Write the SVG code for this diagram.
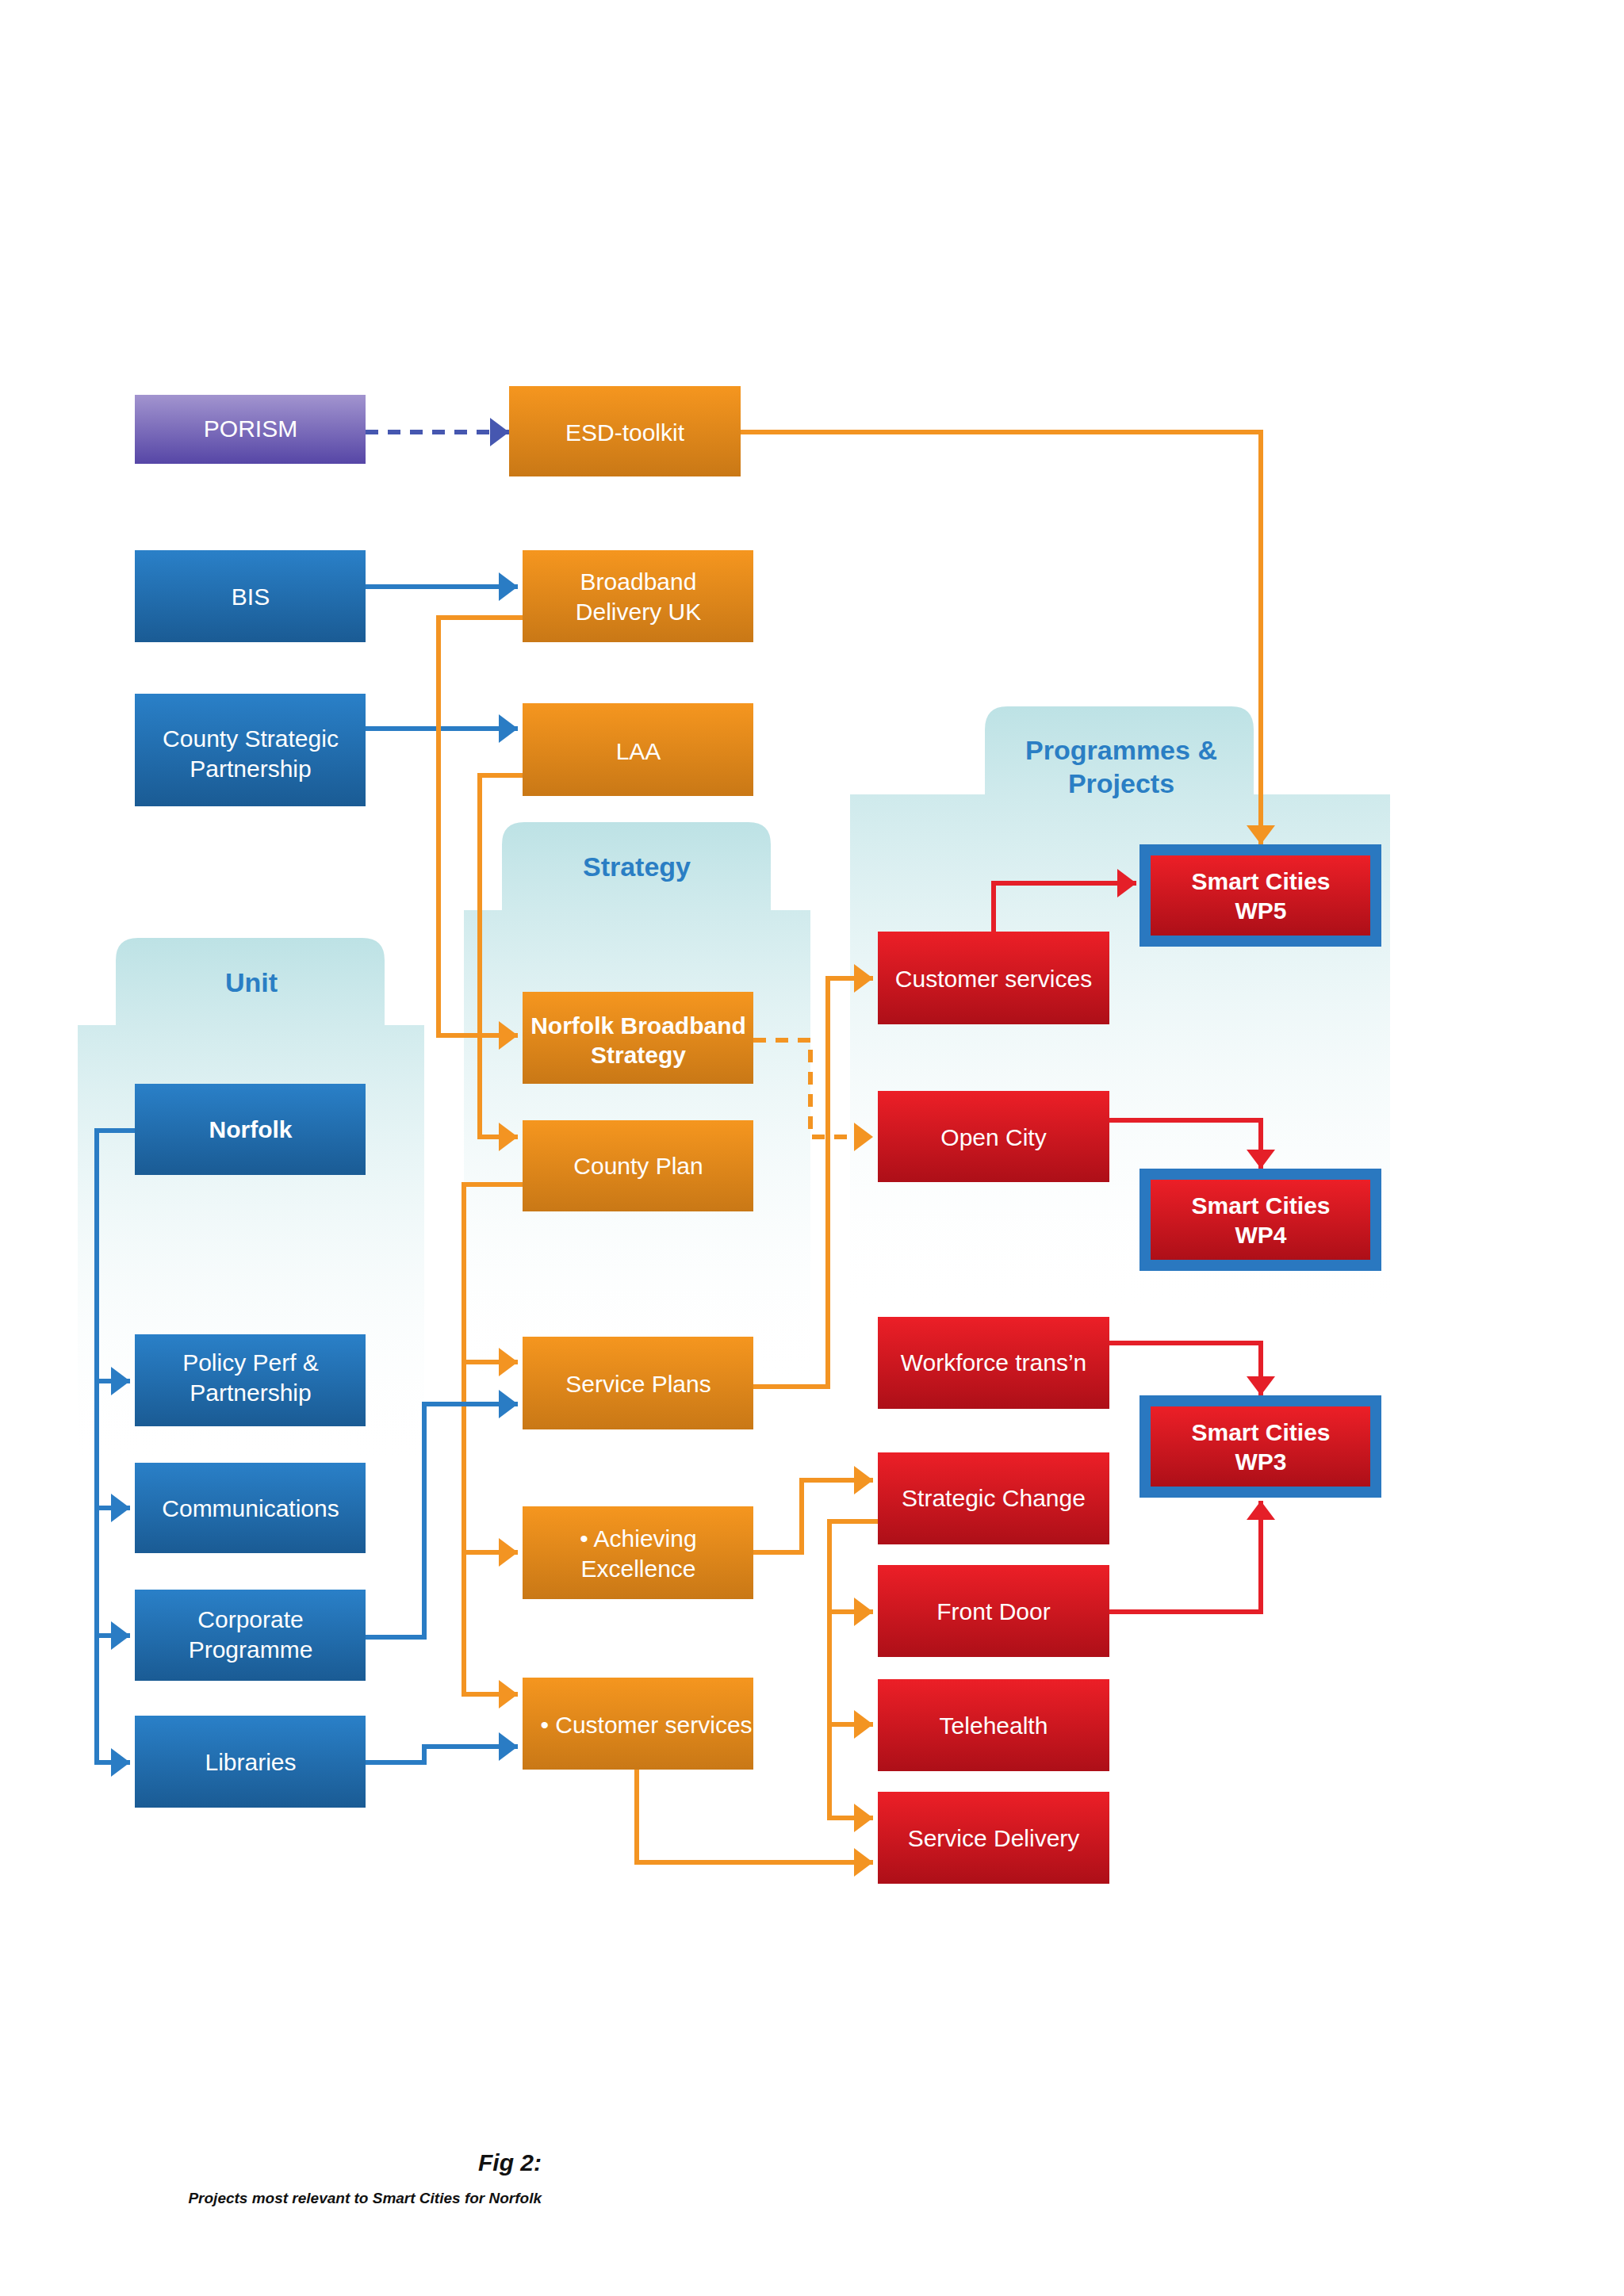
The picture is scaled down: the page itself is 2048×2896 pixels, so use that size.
<svg xmlns="http://www.w3.org/2000/svg" width="2048" height="2896" viewBox="0 0 2048 2896">
<defs>
<linearGradient id="gb" x1="0" y1="0" x2="0" y2="1"><stop offset="0" stop-color="#2a80c8"/><stop offset="1" stop-color="#1a5b94"/></linearGradient>
<linearGradient id="go" x1="0" y1="0" x2="0" y2="1"><stop offset="0" stop-color="#f5961f"/><stop offset="1" stop-color="#c97816"/></linearGradient>
<linearGradient id="gr" x1="0" y1="0" x2="0" y2="1"><stop offset="0" stop-color="#ec1f27"/><stop offset="1" stop-color="#ad0f18"/></linearGradient>
<linearGradient id="gp" x1="0" y1="0" x2="0" y2="1"><stop offset="0" stop-color="#a294cf"/><stop offset="1" stop-color="#5646a6"/></linearGradient>
<linearGradient id="gpan" x1="0" y1="0" x2="0" y2="1"><stop offset="0" stop-color="#bde2e5"/><stop offset="1" stop-color="#ffffff" stop-opacity="0"/></linearGradient>
<marker id="ab" markerUnits="userSpaceOnUse" markerWidth="26" markerHeight="36" refX="24" refY="18" orient="auto"><path d="M0,0 L24,18 L0,36 Z" fill="#2a7cc4"/></marker>
<marker id="ao" markerUnits="userSpaceOnUse" markerWidth="26" markerHeight="36" refX="24" refY="18" orient="auto"><path d="M0,0 L24,18 L0,36 Z" fill="#f39422"/></marker>
<marker id="ar" markerUnits="userSpaceOnUse" markerWidth="26" markerHeight="36" refX="24" refY="18" orient="auto"><path d="M0,0 L24,18 L0,36 Z" fill="#e51f28"/></marker>
<marker id="ap" markerUnits="userSpaceOnUse" markerWidth="26" markerHeight="36" refX="24" refY="18" orient="auto"><path d="M0,0 L24,18 L0,36 Z" fill="#4657b0"/></marker>
</defs>
<style>
text{font-family:"Liberation Sans",Arial,sans-serif;font-size:30px;fill:#fff;text-anchor:middle}
.b{font-weight:bold}
.t{font-weight:bold;font-size:34px;fill:#2a7ec4}
.l{fill:none;stroke-width:6}
.lb{stroke:#2a7cc4}.lo{stroke:#f39422}.lr{stroke:#e51f28}
</style>
<rect width="2048" height="2896" fill="#fff"/>
<g id="panels">
<path d="M1072,1002 H1242 V920 Q1242,891 1270,891 H1553 Q1581,891 1581,920 V1002 H1753 V1660 H1072 Z" fill="url(#gpan)"/>
<path d="M585,1148 H633 V1065 Q633,1037 661,1037 H944 Q972,1037 972,1065 V1148 H1022 V1750 H585 Z" fill="url(#gpan)"/>
<path d="M98,1293 H146 V1211 Q146,1183 174,1183 H457 Q485,1183 485,1211 V1293 H535 V1850 H98 Z" fill="url(#gpan)"/>
<text class="t" x="1414" y="958">Programmes &amp;</text><text class="t" x="1414" y="1000">Projects</text>
<text class="t" x="803" y="1105">Strategy</text>
<text class="t" x="317" y="1251">Unit</text>
</g>
<g id="connectors">
<path class="l" d="M461,545 H642" stroke="#4657b0" stroke-dasharray="16,12" marker-end="url(#ap)"/>
<path class="l lo" d="M934,545 H1590 V1065" marker-end="url(#ao)"/>
<path class="l lb" d="M461,740 H653" marker-end="url(#ab)"/>
<path class="l lb" d="M461,919 H653" marker-end="url(#ab)"/>
<path class="l lo" d="M659,779 H553 V1306 H653" marker-end="url(#ao)"/>
<path class="l lo" d="M659,978 H605 V1434 H653" marker-end="url(#ao)"/>
<path class="l lo" d="M659,1494 H585 V2137 H653" marker-end="url(#ao)"/>
<path class="l lo" d="M585,1718 H653" marker-end="url(#ao)"/>
<path class="l lo" d="M585,1958 H653" marker-end="url(#ao)"/>
<path class="l lo" d="M950,1312 H1022 V1434 H1101" stroke-dasharray="16,12" marker-end="url(#ao)"/>
<path class="l lo" d="M950,1749 H1044 V1234 H1101" marker-end="url(#ao)"/>
<path class="l lr" d="M1253,1175 V1114 H1433" marker-end="url(#ar)"/>
<path class="l lr" d="M1399,1413 H1590 V1474" marker-end="url(#ar)"/>
<path class="l lr" d="M1399,1694 H1590 V1760" marker-end="url(#ar)"/>
<path class="l lr" d="M1399,2033 H1590 V1893" marker-end="url(#ar)"/>
<path class="l lo" d="M950,1958 H1011 V1867 H1101" marker-end="url(#ao)"/>
<path class="l lo" d="M1107,1919 H1046 V2293 H1101" marker-end="url(#ao)"/>
<path class="l lo" d="M1046,2033 H1101" marker-end="url(#ao)"/>
<path class="l lo" d="M1046,2175 H1101" marker-end="url(#ao)"/>
<path class="l lo" d="M803,2232 V2349 H1101" marker-end="url(#ao)"/>
<path class="l lb" d="M170,1426 H122 V2223 H164" marker-end="url(#ab)"/>
<path class="l lb" d="M122,1742 H164" marker-end="url(#ab)"/>
<path class="l lb" d="M122,1902 H164" marker-end="url(#ab)"/>
<path class="l lb" d="M122,2063 H164" marker-end="url(#ab)"/>
<path class="l lb" d="M461,2065 H535 V1771 H653" marker-end="url(#ab)"/>
<path class="l lb" d="M461,2223 H535 V2203 H653" marker-end="url(#ab)"/>
</g>
<g id="porism"><rect x="170" y="498" width="291" height="87" fill="url(#gp)"/><text x="316" y="551">PORISM</text></g>
<g id="esd"><rect x="642" y="487" width="292" height="114" fill="url(#go)"/><text x="788" y="556">ESD-toolkit</text></g>
<g id="bis"><rect x="170" y="694" width="291" height="116" fill="url(#gb)"/><text x="316" y="763">BIS</text></g>
<g id="bduk"><rect x="659" y="694" width="291" height="116" fill="url(#go)"/><text x="805" y="744">Broadband</text><text x="805" y="782">Delivery UK</text></g>
<g id="csp"><rect x="170" y="875" width="291" height="142" fill="url(#gb)"/><text x="316" y="942">County Strategic</text><text x="316" y="980">Partnership</text></g>
<g id="laa"><rect x="659" y="887" width="291" height="117" fill="url(#go)"/><text x="805" y="958">LAA</text></g>
<g id="wp5"><rect x="1437" y="1065" width="305" height="129" fill="#2a78c0"/><rect x="1451" y="1079" width="277" height="101" fill="url(#gr)"/><text class="b" x="1590" y="1122">Smart Cities</text><text class="b" x="1590" y="1159">WP5</text></g>
<g id="custred"><rect x="1107" y="1175" width="292" height="117" fill="url(#gr)"/><text x="1253" y="1245">Customer services</text></g>
<g id="nbs"><rect x="659" y="1251" width="291" height="116" fill="url(#go)"/><text class="b" x="805" y="1304">Norfolk Broadband</text><text class="b" x="805" y="1341">Strategy</text></g>
<g id="norfolk"><rect x="170" y="1367" width="291" height="115" fill="url(#gb)"/><text class="b" x="316" y="1435">Norfolk</text></g>
<g id="opencity"><rect x="1107" y="1376" width="292" height="115" fill="url(#gr)"/><text x="1253" y="1445">Open City</text></g>
<g id="countyplan"><rect x="659" y="1413" width="291" height="115" fill="url(#go)"/><text x="805" y="1481">County Plan</text></g>
<g id="wp4"><rect x="1437" y="1474" width="305" height="129" fill="#2a78c0"/><rect x="1451" y="1488" width="277" height="101" fill="url(#gr)"/><text class="b" x="1590" y="1531">Smart Cities</text><text class="b" x="1590" y="1568">WP4</text></g>
<g id="policy"><rect x="170" y="1683" width="291" height="116" fill="url(#gb)"/><text x="316" y="1729">Policy Perf &amp;</text><text x="316" y="1767">Partnership</text></g>
<g id="serviceplans"><rect x="659" y="1686" width="291" height="117" fill="url(#go)"/><text x="805" y="1756">Service Plans</text></g>
<g id="workforce"><rect x="1107" y="1661" width="292" height="116" fill="url(#gr)"/><text x="1253" y="1729">Workforce trans’n</text></g>
<g id="wp3"><rect x="1437" y="1760" width="305" height="129" fill="#2a78c0"/><rect x="1451" y="1774" width="277" height="101" fill="url(#gr)"/><text class="b" x="1590" y="1817">Smart Cities</text><text class="b" x="1590" y="1854">WP3</text></g>
<g id="comms"><rect x="170" y="1845" width="291" height="114" fill="url(#gb)"/><text x="316" y="1913">Communications</text></g>
<g id="stratchange"><rect x="1107" y="1832" width="292" height="116" fill="url(#gr)"/><text x="1253" y="1900">Strategic Change</text></g>
<g id="achieving"><rect x="659" y="1900" width="291" height="117" fill="url(#go)"/><text x="805" y="1951">• Achieving</text><text x="805" y="1989">Excellence</text></g>
<g id="corporate"><rect x="170" y="2005" width="291" height="115" fill="url(#gb)"/><text x="316" y="2053">Corporate</text><text x="316" y="2091">Programme</text></g>
<g id="frontdoor"><rect x="1107" y="1974" width="292" height="116" fill="url(#gr)"/><text x="1253" y="2043">Front Door</text></g>
<g id="custorange"><rect x="659" y="2116" width="291" height="116" fill="url(#go)"/><text x="815" y="2186">• Customer services</text></g>
<g id="libraries"><rect x="170" y="2164" width="291" height="116" fill="url(#gb)"/><text x="316" y="2233">Libraries</text></g>
<g id="telehealth"><rect x="1107" y="2118" width="292" height="116" fill="url(#gr)"/><text x="1253" y="2187">Telehealth</text></g>
<g id="servicedelivery"><rect x="1107" y="2260" width="292" height="116" fill="url(#gr)"/><text x="1253" y="2329">Service Delivery</text></g>
<g id="caption">
<text x="683" y="2738" style="fill:#111;font-weight:bold;font-style:italic;font-size:30px;text-anchor:end">Fig 2:</text>
<text x="683" y="2779" style="fill:#111;font-weight:bold;font-style:italic;font-size:19px;text-anchor:end">Projects most relevant to Smart Cities for Norfolk</text>
</g>
</svg>
